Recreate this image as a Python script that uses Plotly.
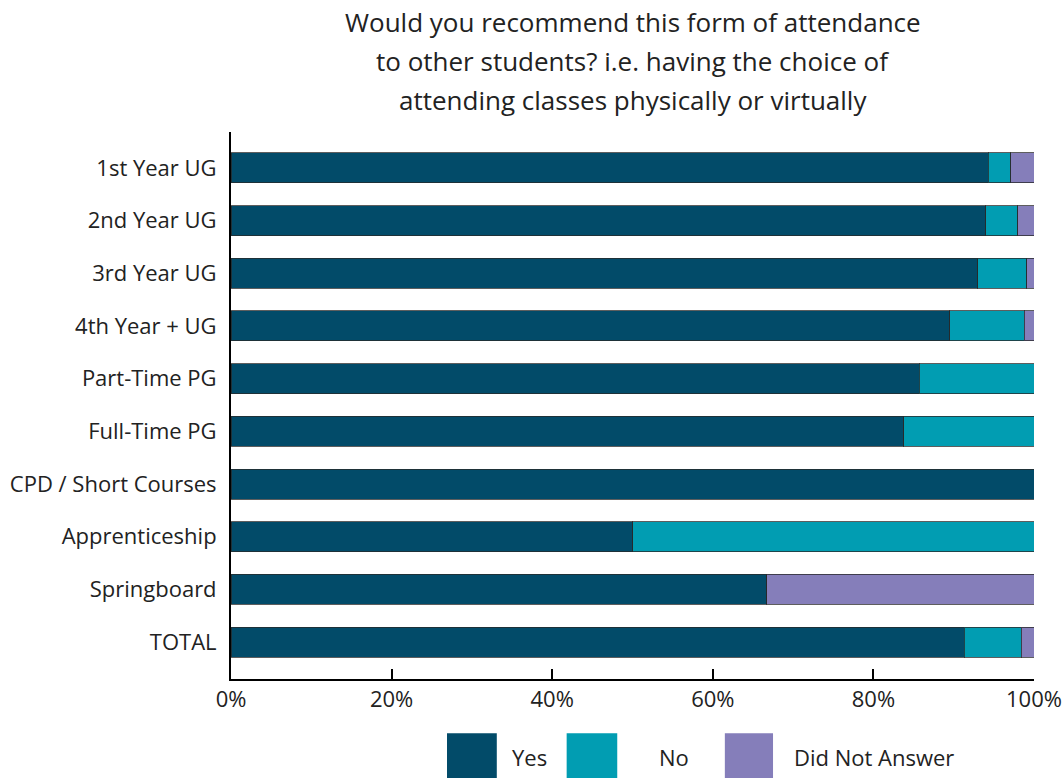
import plotly.graph_objects as go

categories = ["1st Year UG", "2nd Year UG", "3rd Year UG", "4th Year + UG",
              "Part-Time PG", "Full-Time PG", "CPD / Short Courses",
              "Apprenticeship", "Springboard", "TOTAL"]
yes_vals = [94.3, 94.0, 93.0, 89.5, 85.7, 83.8, 100.0, 50.0, 66.7, 91.3]
no_vals = [2.8, 4.0, 6.1, 9.3, 14.3, 16.2, 0.0, 50.0, 0.0, 7.1]
dna_vals = [2.9, 2.0, 0.9, 1.2, 0.0, 0.0, 0.0, 0.0, 33.3, 1.6]
series_names = ["Yes", "No", "Did Not Answer"]
colors = ["#024B69", "#019DB2", "#857EBA"]
x_ticks = [0, 20, 40, 60, 80, 100]
title_lines = ["Would you recommend this form of attendance",
               "to other students? i.e. having the choice of",
               "attending classes physically or virtually"]

FONT = "Open Sans"
fig = go.Figure()
for name, vals, col in zip(series_names, [yes_vals, no_vals, dna_vals], colors):
    fig.add_trace(go.Bar(
        y=categories, x=vals, name=name, orientation="h",
        marker=dict(color=col, line=dict(color="rgba(40,40,40,0.75)", width=1)),
        showlegend=False,
    ))

fig.update_layout(
    barmode="stack",
    bargap=0.43,
    width=1062, height=778,
    margin=dict(l=231, r=28, t=132, b=99, autoexpand=False),
    plot_bgcolor="white", paper_bgcolor="white",
    font=dict(family=FONT, size=22, color="#222222"),
    xaxis=dict(range=[0, 100], tickvals=x_ticks,
               ticktext=[f"{v}%" for v in x_ticks],
               showgrid=False, zeroline=False, automargin=False,
               showline=True, linecolor="black", linewidth=2,
               ticks="inside", ticklen=10, tickwidth=2, tickcolor="black",
               tickfont=dict(size=22, family=FONT, color="#222222")),
    yaxis=dict(categoryorder="array", categoryarray=categories,
               range=[9.70, -0.68], showgrid=False, zeroline=False,
               automargin=False,
               showline=True, linecolor="black", linewidth=2,
               ticks="", ticklabelstandoff=8,
               tickfont=dict(size=22, family=FONT, color="#222222")),
)

title_y_px = [22, 61, 100]
for line, ypx in zip(title_lines, title_y_px):
    fig.add_annotation(text=line, xref="paper", yref="paper",
                       x=0.5, y=(679 - ypx) / 547, xanchor="center",
                       yanchor="middle", showarrow=False,
                       font=dict(size=26, family=FONT, color="#222222"))

# custom legend with large swatches
leg_boxes = [(0.269, 0.331), (0.418, 0.481), (0.615, 0.675)]
leg_text_x = [0.348, 0.530, 0.699]
for (x0, x1), tx, name, col in zip(leg_boxes, leg_text_x, series_names, colors):
    fig.add_shape(type="rect", xref="paper", yref="paper",
                  x0=x0, x1=x1, y0=-0.099, y1=-0.2,
                  fillcolor=col, line=dict(width=0))
    fig.add_annotation(text=name, xref="paper", yref="paper",
                       x=tx, y=-0.143, xanchor="left", yanchor="middle",
                       showarrow=False,
                       font=dict(size=22, family=FONT, color="#222222"))

fig.write_html("out.html")
